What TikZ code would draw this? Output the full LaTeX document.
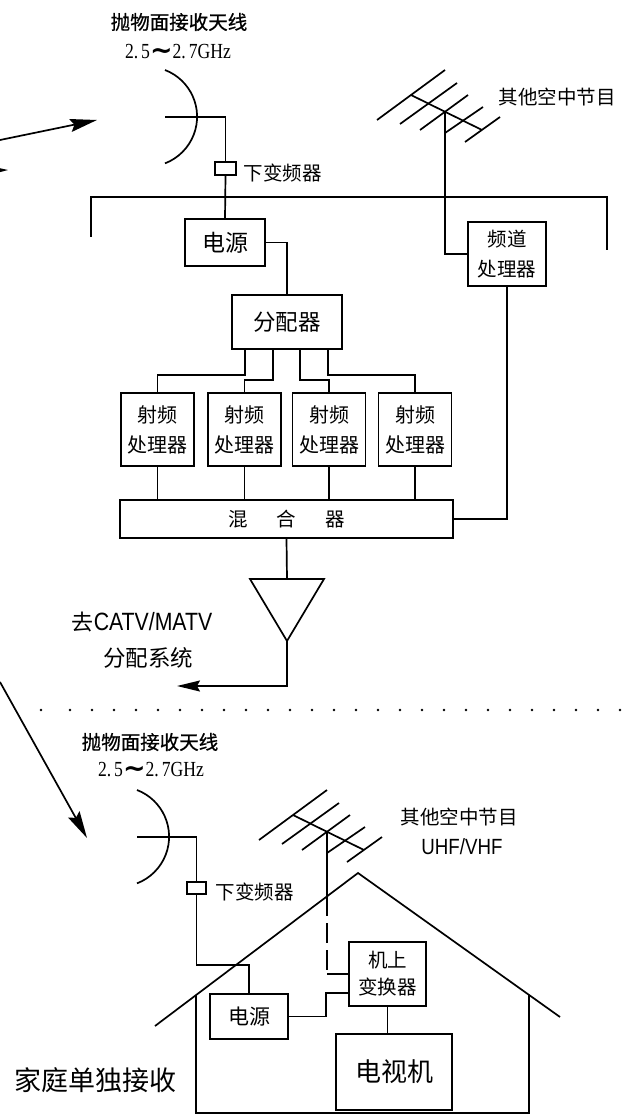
\documentclass[tikz,border=0pt]{standalone}
\usepackage{fontspec}
\setmainfont{Noto Sans CJK SC}
\newfontfamily\headfont[FakeBold=0.8]{Noto Sans CJK SC}
\newfontfamily\numfont[FakeStretch=0.82]{Liberation Serif}
\newfontfamily\narrowfont[FakeStretch=0.85]{Liberation Sans}
\newfontfamily\symfont{DejaVu Sans}
\usetikzlibrary{arrows.meta,calc}
\newcommand\setfs[2]{\fontsize{#1}{#2}\selectfont}
\newcommand\freqtext{{\numfont\setfs{21.5}{21.5}2.\kern3pt 5}{\symfont\bfseries\setfs{27}{27}\raisebox{-1pt}{∼}}{\numfont\setfs{21.5}{21.5}2.\kern3pt 7GHz}}

\tikzset{
  box/.style={draw, inner sep=0pt, align=center, line width=1.7pt},
  lbl/.style={inner sep=0pt, align=center},
  wire/.style={line width=1.7pt},
  thinwire/.style={line width=1.3pt},
  bigarrow/.style={line width=1.7pt, -{Stealth[length=27pt,width=13pt,inset=4pt]}},
  smallarrow/.style={line width=1.7pt, -{Stealth[length=23pt,width=11pt,inset=3pt]}},
  yagi/.pic={
    \draw[wire] (-34,-17) -- (37,18);
    \draw[wire] (-68,8) -- (0,-42);
    \draw[wire] (-45,12) -- (12,-29);
    \draw[wire] (-25,18) -- (23,-17);
    \draw[wire] (0,21) -- (38,-5);
    \draw[wire] (20,30) -- (55,5);
  }
}

\begin{document}
\begin{tikzpicture}[x=1pt, y=-1pt, line width=1.7pt]
\useasboundingbox (0,0) rectangle (623,1115);

% ---------------- upper part: community reception ----------------
\node[lbl, font=\headfont\setfs{19.5}{19.5}] (dishA) at (179,22) {抛物面接收天线};
\node[lbl] (freqA) at (178,52) {\freqtext};

% parabolic dish and feed
\draw[wire] (165,70) arc[start angle=69, end angle=-69, radius=50pt];
\coordinate (feedA) at (165,117);
\node[box, minimum width=21pt, minimum height=13pt] (dcA) at (225.5,168.5) {};
\node[lbl, anchor=west, font=\setfs{19.5}{19.5}] (dcAlbl) at (243,173) {下变频器};
\draw[wire] (feedA) -| (dcA.north);

% incoming signal arrows
\begin{scope}
  \clip (0,0) rectangle (623,1115);
  \coordinate (inA0) at (0,140);
  \coordinate (inA1) at (97,120);
  \draw[bigarrow] (inA0) -- (inA1);
  \coordinate (inB0) at (-40,171);
  \coordinate (inB1) at (8,170);
  \draw[bigarrow] (inB0) -- (inB1);
\end{scope}

% Yagi antenna for off-air programmes
\coordinate (mastA) at (445,112);
\pic at (mastA) {yagi};
\node[lbl, font=\setfs{19.5}{19.5}] (otherA) at (557,97) {其他空中节目};

% horizontal rail
\coordinate (railL) at (91,237);
\coordinate (railR) at (607,197);
\draw[wire] (railL) |- (railR) -- (607,250);

% power supply and splitter
\node[box, minimum width=80pt, minimum height=47pt, font=\setfs{23}{23}] (pwr) at (225,242.5) {电源};
\draw[wire] (dcA.south) -- (pwr.north);
\node[box, minimum width=110pt, minimum height=54pt, font=\setfs{22.5}{22.5}] (split) at (287,322) {分配器};
\draw[wire] (pwr.east) -| (split.north);

% channel processor
\node[box, minimum width=78pt, minimum height=64pt, font=\setfs{19.5}{30}] (ch) at (507,254) {频道\\处理器};
\draw[wire] (mastA) |- (ch.west);

% four RF processors
\foreach \i/\x in {1/157.5, 2/244.5, 3/329, 4/415}
  \node[box, minimum width=73pt, minimum height=73pt, font=\setfs{20}{30}] (rf\i) at (\x,429.5) {射频\\处理器};

\coordinate (s1) at (245,349);
\coordinate (s2) at (273,349);
\coordinate (s3) at (300,349);
\coordinate (s4) at (328,349);
\draw[wire] (s1) -- ++(0,26) -| (rf1.north);
\draw[wire] (s2) -- ++(0,31) -| (rf2.north);
\draw[wire] (s3) -- ++(0,31) -| (rf3.north);
\draw[wire] (s4) -- ++(0,26) -| (rf4.north);

% mixer
\node[box, minimum width=333pt, minimum height=38pt, font=\setfs{19.5}{19.5}] (mix) at (286.5,519) {混\hspace{29pt}合\hspace{29pt}器};
\foreach \i in {1,...,4}
  \draw[thinwire] (rf\i.south) -- (rf\i.south |- mix.north);
\draw[wire] (ch.south) |- (mix.east);

% distribution amplifier
\coordinate (ampL) at (250,579);
\coordinate (ampR) at (324,579);
\coordinate (ampO) at (287,641);
\coordinate (ampI) at (287,579);
\draw[wire] (mix.south) -- (ampI);
\draw[wire, line join=miter] (ampL) -- (ampR) -- (ampO) -- cycle;
\coordinate (catv) at (177,686);
\draw[smallarrow] (ampO) |- (catv);
\node[lbl, font=\setfs{22}{22}] (catvA) at (142,622) {去{\narrowfont\setfs{25}{25}CATV/MATV}};
\node[lbl, font=\setfs{22.5}{22.5}] (catvB) at (148,658) {分配系统};

% separating dotted line
\coordinate (dot0) at (41,710);
\fill (dot0) circle[radius=1.4pt];
\foreach \x in {70,92,...,620}
  \fill (\x,710) circle[radius=1.4pt];

% ---------------- lower part: individual home reception ----------------
\coordinate (inC0) at (0,682);
\coordinate (inC1) at (87,838);
\draw[bigarrow] (inC0) -- (inC1);

\node[lbl, font=\headfont\setfs{19.5}{19.5}] (dishB) at (150,742) {抛物面接收天线};
\node[lbl] (freqB) at (151,770) {\freqtext};

\draw[wire] (137,790) arc[start angle=69, end angle=-69, radius=50pt];
\coordinate (feedB) at (137,837);
\node[box, minimum width=19pt, minimum height=12pt] (dcB) at (196.5,888) {};
\node[lbl, anchor=west, font=\setfs{19.5}{19.5}] (dcBlbl) at (215,892) {下变频器};
\draw[wire] (feedB) -| (dcB.north);

% house outline
\coordinate (roofL) at (155,1026);
\coordinate (roofT) at (358,873);
\coordinate (roofR) at (560,1017);
\draw[wire] (roofL) -- (roofT) -- (roofR);
\coordinate (wallL) at (196,995);
\coordinate (wallR) at (529,995);
\draw[wire] (wallL) -- (196,1113) -- (529,1113) -- (wallR);

% indoor equipment
\node[box, minimum width=78pt, minimum height=45pt, font=\setfs{21}{21}] (pwrB) at (249,1016.5) {电源};
\node[box, minimum width=77pt, minimum height=64pt, font=\setfs{19.5}{27}] (conv) at (387.5,974) {机上\\变换器};
\node[box, minimum width=116pt, minimum height=76pt, font=\setfs{26}{26}] (tv) at (394,1072) {电视机};

\draw[wire] (dcB.south) |- ($(pwrB.north)+(0,-28)$) -- (pwrB.north);
\draw[wire] (pwrB.east) -- ++(37,0) |- ($(conv.west)+(0,19)$);
\draw[thinwire] (conv.south) -- (conv.south |- tv.north);

% rooftop Yagi antenna, cable dashed inside the house
\coordinate (mastB) at (327,832);
\pic at (mastB) {yagi};
\coordinate (mastRoof) at (327,896);
\draw[wire] (mastB) -- (mastRoof);
\draw[wire, dash pattern=on 20pt off 7pt] (mastRoof) -- (327,974);
\draw[wire] (327,974) -- (conv.west);

\node[lbl, font=\setfs{19.5}{19.5}] (otherB) at (459,817) {其他空中节目};
\node[lbl, font=\narrowfont\setfs{22}{22}] (uhf) at (462,847) {UHF/VHF};
\node[lbl, font=\setfs{27}{27}] (home) at (95,1080) {家庭单独接收};

\end{tikzpicture}
\end{document}
